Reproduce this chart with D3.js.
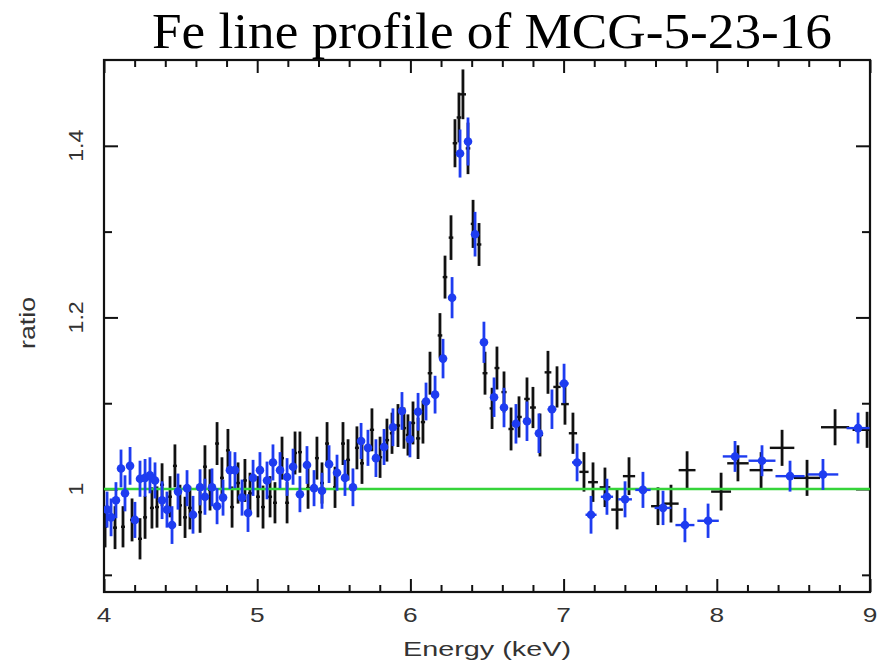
<!DOCTYPE html>
<html>
<head>
<meta charset="utf-8">
<script src="https://cdn.jsdelivr.net/npm/d3@7"></script>
<style>
  body { margin: 0; background: #fff; }
  svg { display: block; }
  .tickLabel { font-family: "Liberation Sans", Arial, sans-serif; font-size: 21px; fill: #333; }
</style>
</head>
<body>
<svg id="chart" width="880" height="662"></svg>
<script>
"use strict";

// rows: [energy keV, half bin width, ratio, error]
var blackData = [
  [4.007, 0.013, 0.956, 0.024], [4.072, 0.013, 0.955, 0.025], [4.124, 0.013, 0.956, 0.024],
  [4.183, 0.013, 0.964, 0.025], [4.235, 0.013, 0.942, 0.024], [4.268, 0.013, 0.967, 0.025],
  [4.313, 0.013, 0.978, 0.024], [4.346, 0.013, 0.979, 0.024], [4.379, 0.013, 1.005, 0.025],
  [4.431, 0.013, 0.991, 0.024], [4.463, 0.013, 1.027, 0.025], [4.496, 0.013, 0.981, 0.024],
  [4.529, 0.013, 0.967, 0.024], [4.561, 0.013, 0.978, 0.025], [4.627, 0.013, 0.973, 0.024],
  [4.659, 0.013, 1.026, 0.025], [4.692, 0.013, 0.999, 0.024], [4.738, 0.013, 1.053, 0.025],
  [4.770, 0.013, 1.013, 0.024], [4.809, 0.013, 1.045, 0.025], [4.836, 0.013, 0.979, 0.024],
  [4.875, 0.013, 1.007, 0.024], [4.920, 0.013, 1.010, 0.025], [4.953, 0.013, 0.995, 0.024],
  [5.005, 0.013, 0.991, 0.024], [5.038, 0.013, 0.979, 0.025], [5.084, 0.013, 0.991, 0.024],
  [5.116, 0.013, 0.984, 0.024], [5.162, 0.013, 1.036, 0.025], [5.195, 0.013, 0.984, 0.024],
  [5.247, 0.013, 1.042, 0.025], [5.279, 0.013, 1.043, 0.024], [5.332, 0.013, 1.001, 0.024],
  [5.390, 0.013, 1.036, 0.025], [5.423, 0.013, 1.007, 0.024], [5.456, 0.013, 1.053, 0.025],
  [5.508, 0.013, 1.002, 0.024], [5.560, 0.013, 1.053, 0.025], [5.593, 0.013, 1.034, 0.024],
  [5.651, 0.013, 1.048, 0.025], [5.684, 0.013, 1.030, 0.024], [5.749, 0.014, 1.069, 0.025],
  [5.802, 0.014, 1.037, 0.024], [5.847, 0.014, 1.057, 0.025], [5.880, 0.014, 1.065, 0.024],
  [5.919, 0.014, 1.074, 0.025], [5.958, 0.014, 1.071, 0.024], [5.984, 0.014, 1.063, 0.024],
  [6.017, 0.014, 1.077, 0.025], [6.050, 0.014, 1.059, 0.024], [6.082, 0.014, 1.078, 0.025],
  [6.128, 0.015, 1.135, 0.025], [6.193, 0.015, 1.179, 0.026], [6.226, 0.015, 1.247, 0.025],
  [6.265, 0.015, 1.293, 0.026], [6.291, 0.015, 1.403, 0.028], [6.317, 0.015, 1.433, 0.029],
  [6.343, 0.020, 1.460, 0.029], [6.376, 0.015, 1.397, 0.030], [6.409, 0.015, 1.309, 0.028],
  [6.448, 0.015, 1.285, 0.025], [6.487, 0.016, 1.135, 0.025], [6.533, 0.016, 1.094, 0.024],
  [6.565, 0.016, 1.141, 0.025], [6.611, 0.017, 1.113, 0.024], [6.657, 0.017, 1.070, 0.025],
  [6.709, 0.018, 1.084, 0.024], [6.761, 0.018, 1.105, 0.025], [6.800, 0.019, 1.095, 0.024],
  [6.846, 0.020, 1.063, 0.025], [6.898, 0.022, 1.136, 0.025], [6.957, 0.024, 1.119, 0.024],
  [7.009, 0.025, 1.099, 0.024], [7.061, 0.027, 1.065, 0.024], [7.133, 0.030, 1.020, 0.023],
  [7.192, 0.032, 1.008, 0.023], [7.270, 0.035, 1.002, 0.023], [7.349, 0.038, 0.976, 0.023],
  [7.427, 0.040, 1.015, 0.022], [7.616, 0.045, 0.980, 0.022], [7.701, 0.050, 0.983, 0.022],
  [7.806, 0.055, 1.022, 0.022], [8.028, 0.065, 0.997, 0.022], [8.138, 0.070, 1.030, 0.021],
  [8.289, 0.075, 1.022, 0.021], [8.426, 0.080, 1.048, 0.021], [8.589, 0.085, 1.013, 0.021],
  [8.772, 0.092, 1.072, 0.021], [8.981, 0.095, 1.069, 0.021]
];

var blueData = [
  [4.020, 0.013, 0.976, 0.021], [4.046, 0.013, 0.967, 0.022], [4.078, 0.013, 0.987, 0.021],
  [4.111, 0.013, 1.024, 0.022], [4.137, 0.013, 0.995, 0.021], [4.170, 0.013, 1.027, 0.022],
  [4.202, 0.013, 0.964, 0.021], [4.235, 0.013, 1.012, 0.021], [4.268, 0.013, 1.013, 0.022],
  [4.300, 0.013, 1.016, 0.021], [4.333, 0.013, 1.010, 0.021], [4.379, 0.013, 0.987, 0.022],
  [4.411, 0.013, 0.976, 0.021], [4.444, 0.013, 0.958, 0.022], [4.483, 0.013, 0.997, 0.021],
  [4.542, 0.013, 1.001, 0.021], [4.581, 0.013, 0.970, 0.022], [4.627, 0.013, 1.002, 0.021],
  [4.659, 0.013, 0.991, 0.021], [4.705, 0.013, 1.002, 0.022], [4.738, 0.013, 0.980, 0.021],
  [4.777, 0.013, 0.990, 0.021], [4.822, 0.013, 1.022, 0.022], [4.855, 0.013, 1.022, 0.021],
  [4.901, 0.013, 0.990, 0.021], [4.940, 0.013, 0.972, 0.022], [4.973, 0.013, 1.013, 0.021],
  [5.018, 0.013, 1.022, 0.021], [5.064, 0.013, 1.010, 0.022], [5.103, 0.013, 1.031, 0.021],
  [5.149, 0.013, 1.022, 0.021], [5.195, 0.013, 1.014, 0.022], [5.234, 0.013, 1.026, 0.021],
  [5.279, 0.013, 0.994, 0.021], [5.325, 0.013, 1.028, 0.022], [5.371, 0.013, 1.001, 0.021],
  [5.423, 0.013, 0.998, 0.021], [5.469, 0.013, 1.029, 0.022], [5.521, 0.013, 1.019, 0.021],
  [5.573, 0.013, 1.013, 0.021], [5.625, 0.013, 1.002, 0.022], [5.678, 0.013, 1.056, 0.021],
  [5.723, 0.014, 1.048, 0.021], [5.775, 0.014, 1.036, 0.022], [5.828, 0.014, 1.049, 0.021],
  [5.886, 0.014, 1.072, 0.022], [5.945, 0.014, 1.091, 0.022], [5.997, 0.014, 1.058, 0.021],
  [6.050, 0.014, 1.090, 0.022], [6.102, 0.015, 1.102, 0.022], [6.161, 0.015, 1.110, 0.022],
  [6.213, 0.015, 1.152, 0.023], [6.272, 0.015, 1.223, 0.024], [6.324, 0.015, 1.391, 0.028],
  [6.376, 0.015, 1.405, 0.028], [6.422, 0.016, 1.297, 0.026], [6.480, 0.017, 1.171, 0.024],
  [6.546, 0.018, 1.107, 0.023], [6.611, 0.020, 1.095, 0.023], [6.689, 0.022, 1.076, 0.023],
  [6.761, 0.024, 1.079, 0.023], [6.839, 0.026, 1.065, 0.023], [6.924, 0.028, 1.093, 0.023],
  [7.003, 0.030, 1.123, 0.023], [7.088, 0.033, 1.031, 0.022], [7.179, 0.036, 0.970, 0.022],
  [7.283, 0.040, 0.991, 0.021], [7.401, 0.045, 0.988, 0.021], [7.518, 0.050, 0.999, 0.021],
  [7.649, 0.055, 0.978, 0.020], [7.792, 0.062, 0.958, 0.020], [7.943, 0.070, 0.963, 0.020],
  [8.119, 0.080, 1.038, 0.018], [8.295, 0.088, 1.033, 0.018], [8.478, 0.095, 1.015, 0.018],
  [8.693, 0.100, 1.017, 0.018], [8.922, 0.075, 1.071, 0.018]
];

var xMajor = [4, 5, 6, 7, 8, 9];
var xMinor = [4.2, 4.4, 4.6, 4.8, 5.2, 5.4, 5.6, 5.8, 6.2, 6.4, 6.6, 6.8, 7.2, 7.4, 7.6, 7.8, 8.2, 8.4, 8.6, 8.8];
var yMajor = [1, 1.2, 1.4];
var yMinor = [0.9, 1.1, 1.3];
var modelRatio = 1;

var config = {
  frame: { l: 104, t: 60, r: 870, b: 592 },
  black: "#111",
  blue: "#1e3cf0",
  green: "#35d43a"
};

var svg = d3.select("#chart");

var x = d3.scaleLinear().domain([4, 9]).range([config.frame.l, config.frame.r]);
var y = d3.scaleLinear().domain([0.88, 1.5]).range([config.frame.b, config.frame.t]);

svg.append("defs").append("clipPath")
  .attr("id", "plotClip")
  .append("rect")
  .attr("x", config.frame.l)
  .attr("y", config.frame.t)
  .attr("width", config.frame.r - config.frame.l)
  .attr("height", config.frame.b - config.frame.t);

// title
svg.append("text")
  .attr("x", 492)
  .attr("y", 48)
  .attr("text-anchor", "middle")
  .attr("textLength", 680)
  .attr("lengthAdjust", "spacingAndGlyphs")
  .style("font-family", "'Liberation Serif', 'Times New Roman', serif")
  .style("font-size", "50px")
  .style("fill", "#000")
  .text("Fe line profile of MCG-5-23-16");

// axes, ticks pointing inward on all four sides
function drawAxis(axis, transform, values, size) {
  var g = svg.append("g")
    .attr("transform", transform)
    .call(axis.tickValues(values).tickSize(size).tickFormat(""));
  g.select(".domain").remove();
  g.selectAll("line").attr("stroke", "#111").attr("stroke-width", 2);
  return g;
}

drawAxis(d3.axisBottom(x), "translate(0," + config.frame.b + ")", xMajor, -13);
drawAxis(d3.axisBottom(x), "translate(0," + config.frame.b + ")", xMinor, -7);
drawAxis(d3.axisTop(x), "translate(0," + config.frame.t + ")", xMajor, -13);
drawAxis(d3.axisTop(x), "translate(0," + config.frame.t + ")", xMinor, -7);
drawAxis(d3.axisLeft(y), "translate(" + config.frame.l + ",0)", yMajor, -14);
drawAxis(d3.axisLeft(y), "translate(" + config.frame.l + ",0)", yMinor, -8);
drawAxis(d3.axisRight(y), "translate(" + config.frame.r + ",0)", yMajor, -14);
drawAxis(d3.axisRight(y), "translate(" + config.frame.r + ",0)", yMinor, -8);

svg.append("rect")
  .attr("x", config.frame.l)
  .attr("y", config.frame.t)
  .attr("width", config.frame.r - config.frame.l)
  .attr("height", config.frame.b - config.frame.t)
  .attr("fill", "none")
  .attr("stroke", "#111")
  .attr("stroke-width", 2.2);

// tick labels
svg.selectAll(".xLabel")
  .data(xMajor)
  .enter().append("text")
  .classed("tickLabel", true)
  .attr("text-anchor", "middle")
  .attr("transform", function(d) { return "translate(" + x(d) + ",622) scale(1.25,1)"; })
  .text(function(d) { return d; });

svg.selectAll(".yLabel")
  .data(yMajor)
  .enter().append("text")
  .classed("tickLabel", true)
  .attr("text-anchor", "middle")
  .attr("transform", function(d) { return "translate(83," + y(d) + ") rotate(-90) scale(1.1,1)"; })
  .text(function(d) { return d; });

svg.append("text")
  .classed("tickLabel", true)
  .attr("text-anchor", "middle")
  .attr("x", 487)
  .attr("y", 656)
  .attr("textLength", 168)
  .attr("lengthAdjust", "spacingAndGlyphs")
  .text("Energy (keV)");

svg.append("text")
  .classed("tickLabel", true)
  .attr("text-anchor", "middle")
  .attr("transform", "translate(35,323) rotate(-90)")
  .attr("textLength", 52)
  .attr("lengthAdjust", "spacingAndGlyphs")
  .style("font-size", "22px")
  .text("ratio");

var plot = svg.append("g").attr("clip-path", "url(#plotClip)");

function drawSeries(data, colour, withDots) {
  var g = plot.append("g");
  var pts = g.selectAll("g").data(data).enter().append("g");
  pts.append("line")
    .attr("x1", function(d) { return x(d[0]); })
    .attr("x2", function(d) { return x(d[0]); })
    .attr("y1", function(d) { return y(d[2] - d[3]); })
    .attr("y2", function(d) { return y(d[2] + d[3]); })
    .attr("stroke", colour)
    .attr("stroke-width", 2.8);
  pts.append("line")
    .attr("x1", function(d) { return x(d[0] - d[1]); })
    .attr("x2", function(d) { return x(d[0] + d[1]); })
    .attr("y1", function(d) { return y(d[2]); })
    .attr("y2", function(d) { return y(d[2]); })
    .attr("stroke", colour)
    .attr("stroke-width", 2.4);
  if (withDots) {
    pts.append("circle")
      .attr("cx", function(d) { return x(d[0]); })
      .attr("cy", function(d) { return y(d[2]); })
      .attr("r", 4.3)
      .attr("fill", colour);
  }
}

drawSeries(blackData, config.black, false);

plot.append("line")
  .attr("x1", x(4))
  .attr("x2", x(9))
  .attr("y1", y(modelRatio))
  .attr("y2", y(modelRatio))
  .attr("stroke", config.green)
  .attr("stroke-width", 2.6);

drawSeries(blueData, config.blue, true);
</script>
</body>
</html>
